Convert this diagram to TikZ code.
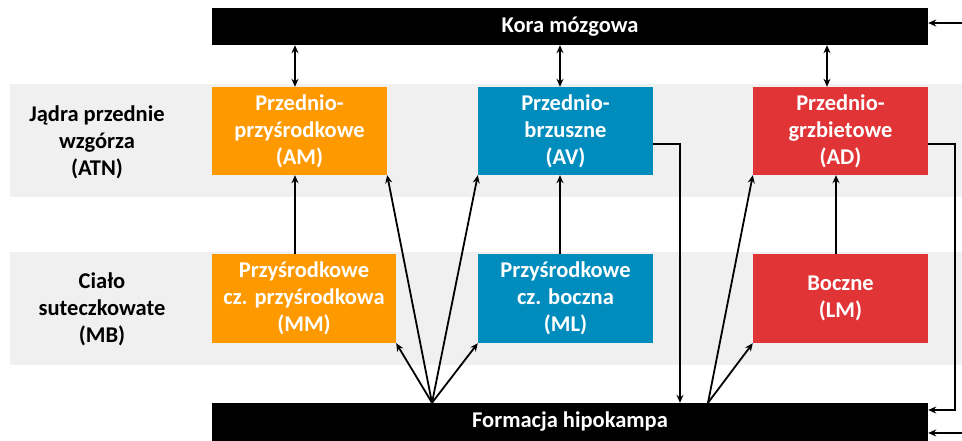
\documentclass[tikz,border=0pt]{standalone}
\usepackage{fontspec}
\setmainfont{Carlito}
\usetikzlibrary{arrows.meta}
\definecolor{cOrange}{RGB}{255,153,0}
\definecolor{cBlue}{RGB}{0,140,188}
\definecolor{cRed}{RGB}{224,52,54}
\definecolor{cGrey}{RGB}{240,240,240}
\tikzset{
  nucbox/.style={rectangle, inner sep=0pt, text=white, font=\fontsize{22.5}{27}\selectfont\bfseries, align=center, minimum height=88pt},
  barbox/.style={rectangle, fill=black, inner sep=0pt, text=white, font=\fontsize{22.5}{27}\selectfont\bfseries, minimum width=716pt, minimum height=37pt},
  sidelabel/.style={font=\fontsize{22.5}{27}\selectfont\bfseries, align=center},
  conn/.style={line width=1.8pt, -{Stealth[length=8pt,width=7pt]}},
  bconn/.style={line width=1.8pt, {Stealth[length=8pt,width=7pt]}-{Stealth[length=8pt,width=7pt]}},
  plain/.style={line width=1.8pt}
}
\begin{document}
\begin{tikzpicture}[x=1pt,y=-1pt]
\useasboundingbox (0,0) rectangle (962,441);
\fill[cGrey] (10,84) rectangle (962,197);
\fill[cGrey] (10,252) rectangle (962,365);

\node[sidelabel] (atn) at (97,142) {Jądra przednie\\wzgórza\\(ATN)};
\node[sidelabel] (mb) at (102,309) {Ciało\\suteczkowate\\(MB)};

\node[barbox] (kora) at (570,26.5) {Kora mózgowa};
\node[barbox, minimum height=38pt] (form) at (570,422) {Formacja hipokampa};

\node[nucbox, fill=cOrange, minimum width=175pt] (AM) at (299.5,131) {Przednio-\\przyśrodkowe\\(AM)};
\node[nucbox, fill=cBlue, minimum width=175pt] (AV) at (565.5,131) {Przednio-\\brzuszne\\(AV)};
\node[nucbox, fill=cRed, minimum width=175pt] (AD) at (840.5,131) {Przednio-\\grzbietowe\\(AD)};
\node[nucbox, fill=cOrange, minimum width=184pt, minimum height=89pt] (MM) at (304,298.5) {Przyśrodkowe\\cz. przyśrodkowa\\(MM)};
\node[nucbox, fill=cBlue, minimum width=175pt, minimum height=89pt] (ML) at (565.5,298.5) {Przyśrodkowe\\cz. boczna\\(ML)};
\node[nucbox, fill=cRed, minimum width=175pt, minimum height=89pt] (LM) at (840.5,298.5) {Boczne\\(LM)};

% cortex <-> anterior nuclei
\draw[bconn] ([xshift=-4.5pt]AM.north |- kora.south) -- ([xshift=-4.5pt]AM.north);
\draw[bconn] ([xshift=-5.5pt]AV.north |- kora.south) -- ([xshift=-5.5pt]AV.north);
\draw[bconn] ([xshift=-13.5pt]AD.north |- kora.south) -- ([xshift=-13.5pt]AD.north);

% mammillary -> anterior
\draw[conn] ([xshift=-9pt]MM.north) -- ([xshift=-4.5pt]AM.south);
\draw[conn] ([xshift=-5.5pt]ML.north) -- ([xshift=-5.5pt]AV.south);
\draw[conn] ([xshift=-4.5pt]LM.north) -- ([xshift=-4.5pt]AD.south);

% hippocampal fans
\coordinate (f1) at ([xshift=-138pt]form.north);
\coordinate (f2) at ([xshift=138pt]form.north);
\draw[conn] (f1) -- (MM.south east);
\draw[conn] (f1) -- (AM.south east);
\draw[conn] (f1) -- (AV.south west);
\draw[conn] (f1) -- (ML.south west);
\draw[conn] (f2) -- (LM.south west);
\draw[conn] (f2) -- (AD.south west);

% returns to hippocampus
\coordinate (avout) at ([yshift=-13pt]AV.east);
\coordinate (avturn) at (680,144);
\draw[conn] (avout) -- (avturn) -- (avturn |- form.north);
\coordinate (adout) at ([yshift=-13pt]AD.east);
\coordinate (adturn) at (955,144);
\coordinate (formin) at ([yshift=12pt]form.east);
\draw[conn] (adout) -- (adturn) -- (adturn |- formin) -- (formin);

% inputs from the right edge
\coordinate (koraext) at (962,23);
\draw[conn] (koraext) -- (koraext -| kora.east);
\coordinate (formext) at (962,433);
\draw[conn] (formext) -- (formext -| form.east);
\end{tikzpicture}
\end{document}
